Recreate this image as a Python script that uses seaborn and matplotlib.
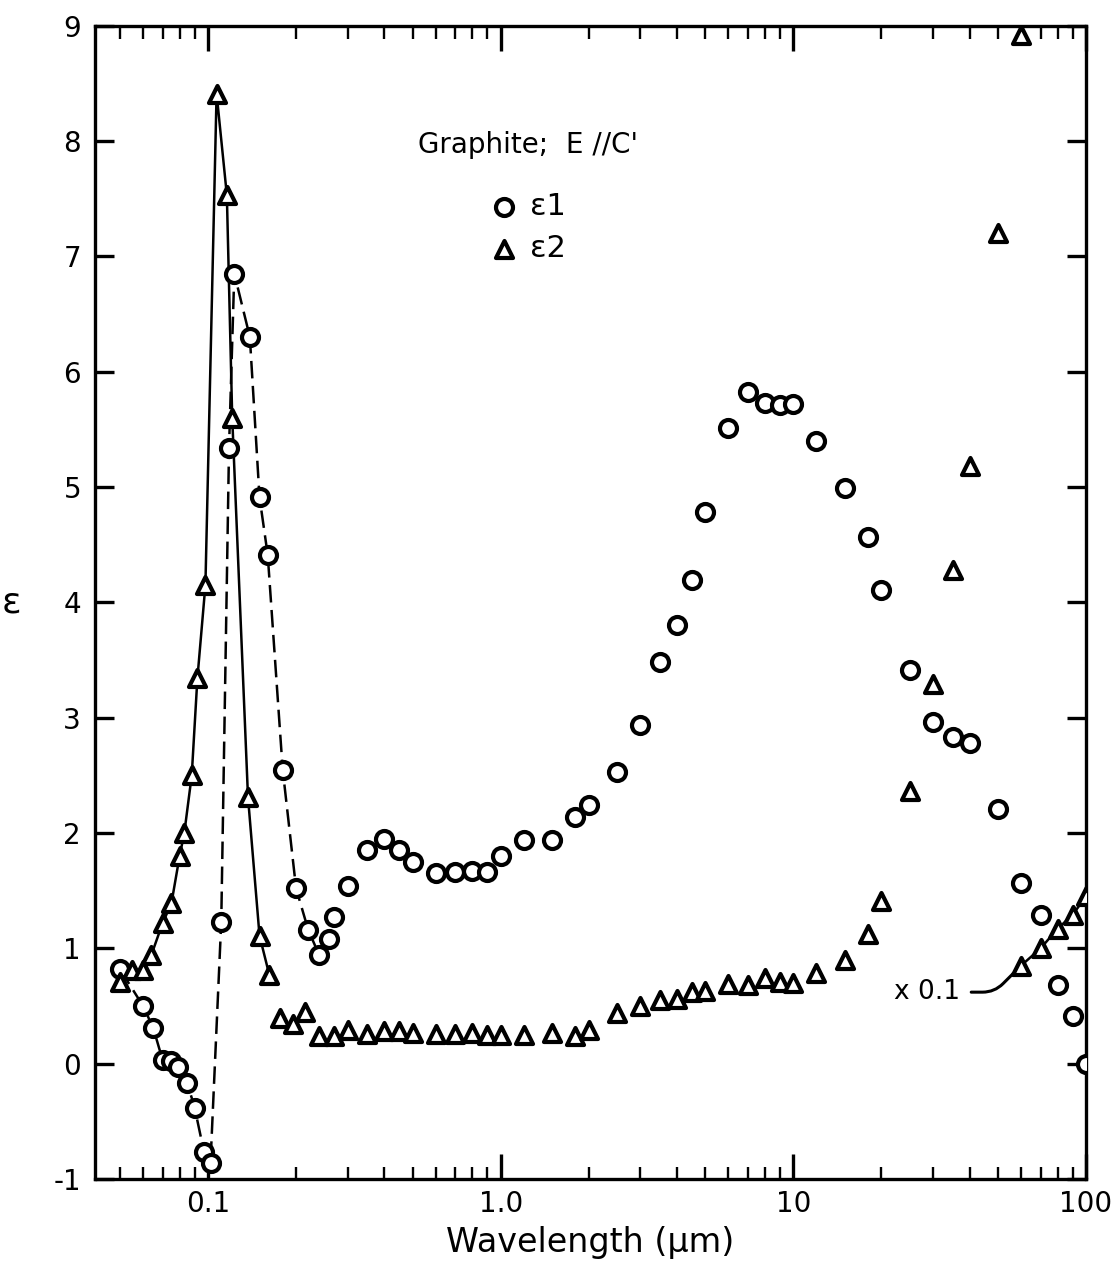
import numpy as np
import pandas as pd
import matplotlib
matplotlib.use("Agg")
import matplotlib.pyplot as plt
import seaborn as sns

# Dielectric function of graphite, E parallel to c-axis
eps1_wl = [0.05, 0.06, 0.065, 0.07, 0.0745, 0.079, 0.085, 0.09, 0.097, 0.102,
           0.111, 0.118, 0.123, 0.139, 0.15, 0.16, 0.18, 0.2, 0.22, 0.24,
           0.26, 0.27, 0.3, 0.35, 0.4, 0.45, 0.5, 0.6, 0.7, 0.8,
           0.9, 1.0, 1.2, 1.5, 1.8, 2.0, 2.5, 3.0, 3.5, 4.0,
           4.5, 5.0, 6.0, 7.0, 8.0, 9.0, 10, 12, 15, 18,
           20, 25, 30, 35, 40, 50, 60, 70, 80, 90, 100]
eps1_val = [0.82, 0.50, 0.31, 0.03, 0.02, -0.03, -0.17, -0.38, -0.77, -0.86,
            1.23, 5.34, 6.85, 6.30, 4.91, 4.41, 2.55, 1.52, 1.16, 0.94,
            1.08, 1.27, 1.54, 1.85, 1.95, 1.85, 1.75, 1.65, 1.66, 1.67,
            1.66, 1.80, 1.94, 1.94, 2.14, 2.24, 2.53, 2.94, 3.48, 3.80,
            4.19, 4.78, 5.51, 5.82, 5.73, 5.71, 5.72, 5.40, 4.99, 4.57,
            4.11, 3.41, 2.96, 2.83, 2.78, 2.21, 1.57, 1.29, 0.68, 0.41, 0.0]

eps2_wl = [0.05, 0.055, 0.06, 0.064, 0.07, 0.075, 0.08, 0.083, 0.088, 0.092,
           0.098, 0.107, 0.116, 0.121, 0.137, 0.15, 0.162, 0.176, 0.195, 0.215,
           0.24, 0.27, 0.3, 0.35, 0.4, 0.45, 0.5, 0.6, 0.7, 0.8,
           0.9, 1.0, 1.2, 1.5, 1.8, 2.0, 2.5, 3.0, 3.5, 4.0,
           4.5, 5.0, 6.0, 7.0, 8.0, 9.0, 10, 12, 15, 18,
           20, 25, 30, 35, 40, 50, 60]
eps2_val = [0.71, 0.81, 0.81, 0.94, 1.22, 1.39, 1.80, 2.00, 2.50, 3.34,
            4.15, 8.41, 7.53, 5.60, 2.31, 1.11, 0.77, 0.40, 0.34, 0.45,
            0.24, 0.24, 0.29, 0.26, 0.28, 0.28, 0.27, 0.26, 0.26, 0.27,
            0.25, 0.25, 0.25, 0.27, 0.24, 0.29, 0.44, 0.50, 0.55, 0.56,
            0.62, 0.63, 0.69, 0.68, 0.74, 0.71, 0.70, 0.79, 0.90, 1.12,
            1.41, 2.36, 3.29, 4.28, 5.18, 7.20, 8.92]

# far-infrared eps2 plotted at one tenth of its value
eps2_far_wl = [60, 70, 80, 90, 100]
eps2_far_scaled = [0.85, 1.00, 1.17, 1.29, 1.45]

x_ticks = [0.1, 1.0, 10, 100]
x_ticklabels = ["0.1", "1.0", "10", "100"]
y_ticks = list(range(-1, 10))

e1 = pd.DataFrame({"wl": eps1_wl, "eps": eps1_val})
e2 = pd.DataFrame({"wl": eps2_wl, "eps": eps2_val})
e2f = pd.DataFrame({"wl": eps2_far_wl, "eps": eps2_far_scaled})

sns.set_style("ticks")
plt.rcParams["font.family"] = ["DejaVu Sans"]
plt.rcParams.update({
    "text.color": "black", "axes.labelcolor": "black",
    "xtick.color": "black", "ytick.color": "black",
    "axes.edgecolor": "black", "axes.linewidth": 2.4,
})

fig = plt.figure(figsize=(11.16, 12.69), dpi=100)
ax = fig.add_axes([0.0851, 0.0709, 0.888, 0.909])
ax.set_xscale("log")

# guide curves through the ultraviolet resonance
sns.lineplot(data=e1[e1.wl <= 0.24], x="wl", y="eps", color="black", lw=1.8,
             linestyle=(0, (7, 3)), ax=ax, legend=False, zorder=2)
sns.lineplot(data=e2[e2.wl <= 0.162], x="wl", y="eps", color="black", lw=1.8,
             ax=ax, legend=False, zorder=2)
sns.lineplot(data=e2f, x="wl", y="eps", color="black", lw=1.8,
             ax=ax, legend=False, zorder=2)

mk = dict(color="white", edgecolor="black", linewidth=3.0, zorder=3, ax=ax)
sns.scatterplot(data=e1, x="wl", y="eps", marker="o", s=150, label="ε1", **mk)
sns.scatterplot(data=e2, x="wl", y="eps", marker="^", s=150, label="ε2", **mk)
sns.scatterplot(data=e2f, x="wl", y="eps", marker="^", s=150, legend=False, **mk)

ax.annotate("x 0.1", xy=(eps2_far_wl[0], eps2_far_scaled[0]), xytext=(37, 0.62),
            ha="right", va="center", fontsize=19,
            arrowprops=dict(arrowstyle="-", color="black", lw=2.2,
                            shrinkA=6, shrinkB=8,
                            connectionstyle="angle,angleA=0,angleB=45,rad=12"))

ax.text(0.326, 0.896, "Graphite;  E //C'", transform=ax.transAxes,
        fontsize=20, ha="left", va="center")
leg = ax.legend(loc="upper left", bbox_to_anchor=(0.385, 0.866), frameon=False,
                fontsize=22, handletextpad=0.35, labelspacing=0.4,
                handlelength=1.0, borderaxespad=0)

ax.set_xlim(0.0411, 100)
ax.set_ylim(-1, 9)
ax.set_xticks(x_ticks)
ax.set_xticklabels(x_ticklabels)
ax.set_yticks(y_ticks)
ax.set_yticklabels([str(v) for v in y_ticks])

ax.tick_params(axis="both", which="major", direction="in", top=True, right=True,
               labelsize=20, width=2.4)
ax.tick_params(axis="y", which="major", length=14, pad=10)
ax.tick_params(axis="x", which="major", length=18, pad=8)
ax.tick_params(axis="x", which="minor", direction="in", top=True, length=9, width=1.7)
ax.tick_params(axis="y", which="minor", left=False, right=False)

ax.set_xlabel("Wavelength (μm)", fontsize=24, labelpad=6)
ax.set_ylabel("ε", fontsize=26, rotation=0, labelpad=30, va="center")

for s in ax.spines.values():
    s.set_visible(True)
    s.set_linewidth(2.4)

fig.savefig("out.png", dpi=100, facecolor="white")
